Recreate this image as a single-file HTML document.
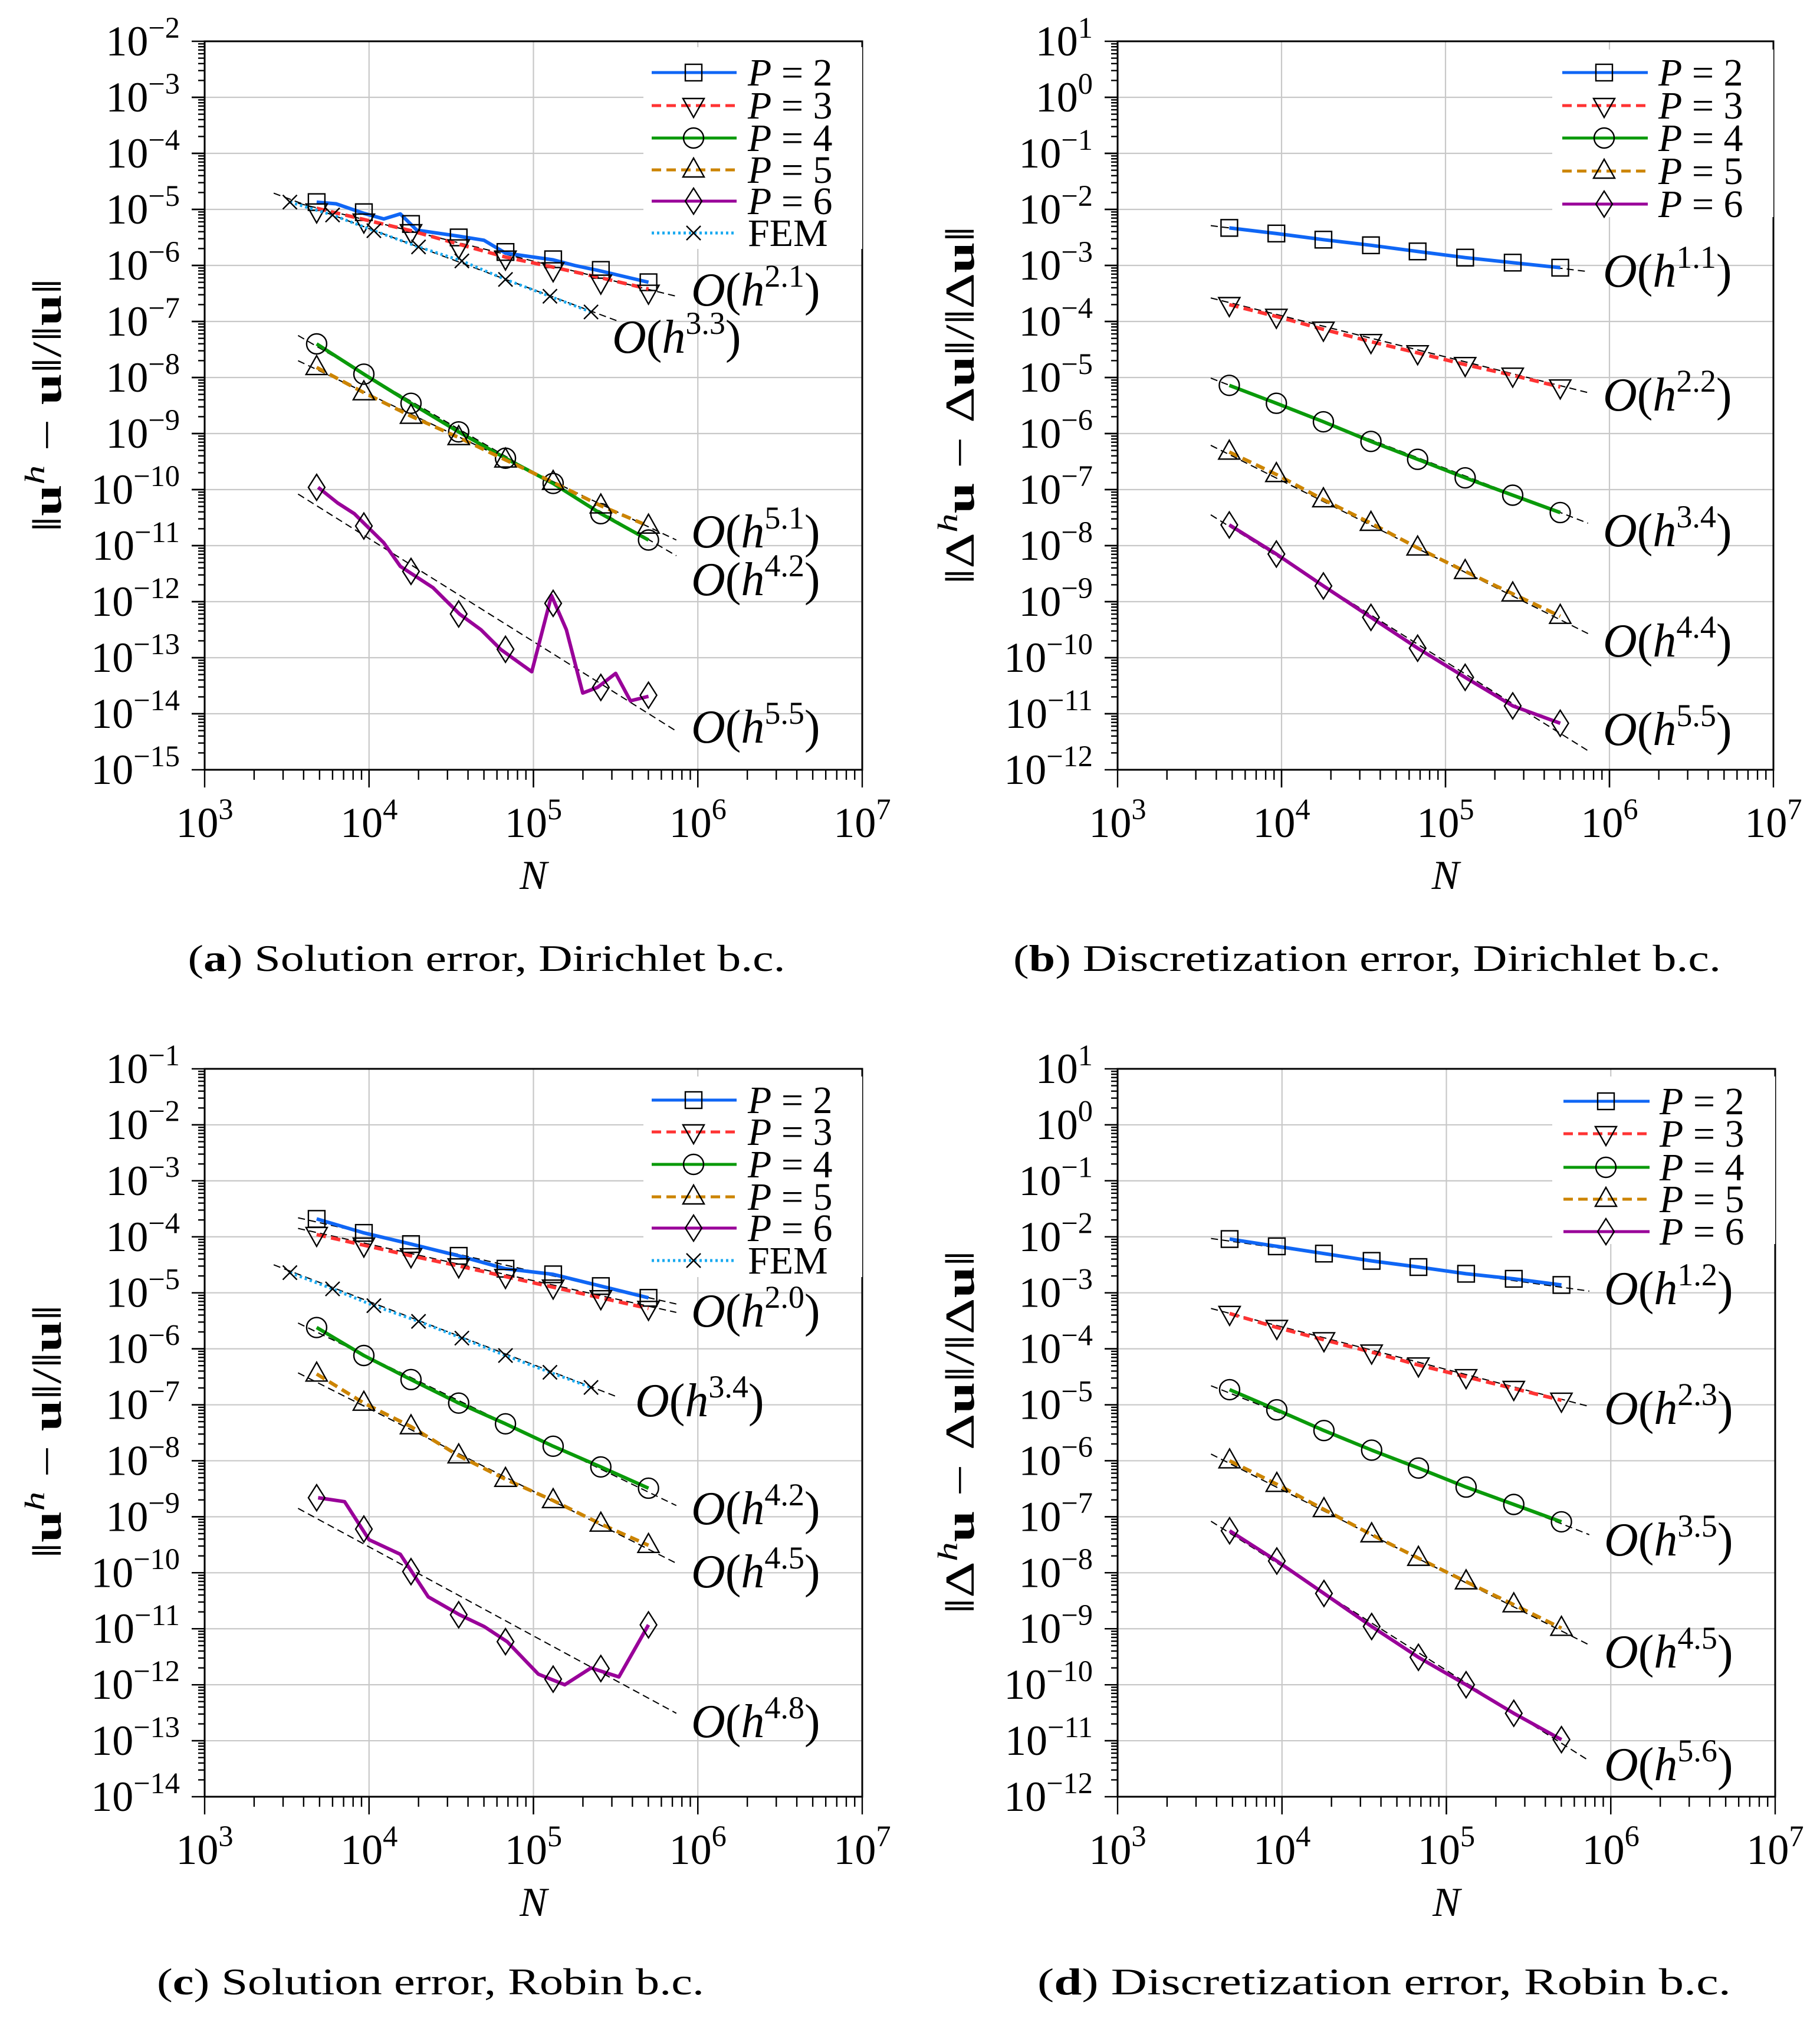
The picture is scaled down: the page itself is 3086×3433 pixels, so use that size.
<!DOCTYPE html>
<html><head><meta charset="utf-8"><style>
html,body{margin:0;padding:0;background:#fff;}
svg{display:block;font-family:"Liberation Serif",serif;}
</style></head><body>
<svg id="fig" xmlns="http://www.w3.org/2000/svg" width="3086" height="3433" viewBox="0 0 3086 3433"></svg>
<script>
// ---------- data ----------
const nMarkers = [4800, 9300, 18000, 35100, 67600, 131800, 257000, 501000];
const femN = [3300, 6000, 10700, 20000, 36700, 67600, 126000, 224000];
const refN = [3700, 740000];
const femRefN = [2630, 331000];
const xTickExp = [3, 4, 5, 6, 7];

// panel a (log10 of error)
const aP2LineN = [4800,6300,9300,12300,15500,19500,35500,50000,67600,131800,178000,257000,501000];
const aP2LineLog = [-4.87,-4.90,-5.07,-5.17,-5.08,-5.37,-5.48,-5.55,-5.78,-5.90,-6.00,-6.10,-6.30];
const aP2Log = [-4.87,-5.05,-5.26,-5.50,-5.76,-5.89,-6.08,-6.30];
const aP3Log = [-5.03,-5.21,-5.40,-5.67,-5.87,-6.08,-6.30,-6.48];
const aP3LineLog = [-4.98,-5.18,-5.38,-5.62,-5.85,-6.03,-6.22,-6.42];
const aP4Log = [-7.40,-7.94,-8.46,-8.97,-9.44,-9.89,-10.43,-10.90];
const aP5Log = [-7.82,-8.27,-8.69,-9.07,-9.47,-9.87,-10.29,-10.65];
const aP6Log = [-9.96,-10.65,-11.46,-12.22,-12.85,-12.03,-13.53,-13.67];
const aP6LineN = [4900,6450,8130,12300,15500,24500,35500,47900,63100,97700,128800,158500,199500,245500,316200,389000,501000];
const aP6LineLog = [-9.96,-10.24,-10.43,-10.95,-11.37,-11.75,-12.22,-12.50,-12.85,-13.25,-11.89,-12.50,-13.63,-13.53,-13.28,-13.77,-13.69];
const aFemLog = [-4.87,-5.10,-5.38,-5.67,-5.92,-6.25,-6.55,-6.83];
const aRefP2 = [-4.89,-6.55];
const aRefFem = [-4.71,-7.0];
const aRefP4 = [-7.25,-11.18];
const aRefP5 = [-7.70,-10.90];
const aRefP6 = [-10.08,-14.31];

// panel b
const bP2Log = [-2.33,-2.43,-2.54,-2.64,-2.75,-2.86,-2.95,-3.04];
const bP3Log = [-3.70,-3.91,-4.14,-4.36,-4.56,-4.77,-4.96,-5.17];
const bP4Log = [-5.14,-5.46,-5.79,-6.14,-6.46,-6.79,-7.10,-7.41];
const bP5Log = [-6.33,-6.73,-7.18,-7.60,-8.04,-8.46,-8.86,-9.26];
const bP6Log = [-7.63,-8.15,-8.72,-9.28,-9.83,-10.35,-10.86,-11.17];
const bRefP2 = [-2.29,-3.11];
const bRefP3 = [-3.58,-5.27];
const bRefP4 = [-5.01,-7.60];
const bRefP5 = [-6.21,-9.57];
const bRefP6 = [-7.45,-11.66];

// panel c
const cP2Log = [-3.68,-3.93,-4.13,-4.34,-4.57,-4.67,-4.88,-5.09];
const cP3Log = [-3.96,-4.15,-4.34,-4.52,-4.71,-4.90,-5.09,-5.28];
const cFemLog = [-4.64,-4.93,-5.23,-5.51,-5.81,-6.12,-6.42,-6.69];
const cP4Log = [-5.62,-6.12,-6.55,-6.97,-7.34,-7.74,-8.11,-8.49];
const cP5Log = [-6.45,-6.97,-7.39,-7.91,-8.33,-8.71,-9.13,-9.51];
const cP6Log = [-8.66,-9.22,-9.98,-10.75,-11.23,-11.90,-11.71,-10.93];
const cP6LineN = [4900,7100,10000,15500,22900,35500,50100,69200,107000,155000,224000,331000,501000];
const cP6LineLog = [-8.66,-8.73,-9.41,-9.67,-10.43,-10.75,-10.96,-11.23,-11.81,-12.00,-11.70,-11.86,-10.93];
const cRefP2 = [-3.66,-5.20];
const cRefP3 = [-3.85,-5.35];
const cRefFem = [-4.50,-6.87];
const cRefP4 = [-5.54,-8.80];
const cRefP5 = [-6.43,-9.83];
const cRefP6 = [-8.85,-12.51];

// panel d
const dP2Log = [-2.04,-2.17,-2.30,-2.43,-2.54,-2.66,-2.75,-2.86];
const dP3Log = [-3.37,-3.62,-3.84,-4.06,-4.29,-4.50,-4.71,-4.92];
const dP4Log = [-4.73,-5.09,-5.46,-5.81,-6.13,-6.47,-6.78,-7.09];
const dP5Log = [-6.00,-6.42,-6.87,-7.32,-7.74,-8.16,-8.57,-8.99];
const dP6Log = [-7.25,-7.79,-8.37,-8.96,-9.51,-10.0,-10.51,-10.98];
const dRefP2 = [-2.03,-2.97];
const dRefP3 = [-3.28,-5.03];
const dRefP4 = [-4.66,-7.32];
const dRefP5 = [-5.88,-9.29];
const dRefP6 = [-7.08,-11.36];

// ---------- drawing ----------
const NS = "http://www.w3.org/2000/svg";
const svg = document.getElementById('fig');
function mk(tag, attrs, parent){
  const e = document.createElementNS(NS, tag);
  for (const k in attrs) e.setAttribute(k, attrs[k]);
  (parent||svg).appendChild(e);
  return e;
}
const ST = {
  P2:{color:'#0f66f5', dash:'', marker:'square', label:'2'},
  P3:{color:'#ff3333', dash:'16 9', marker:'tridown', label:'3'},
  P4:{color:'#0a9a0a', dash:'', marker:'circle', label:'4'},
  P5:{color:'#cc8400', dash:'16 9', marker:'triup', label:'5'},
  P6:{color:'#990099', dash:'', marker:'diamond', label:'6'},
  FEM:{color:'#1aaaf0', dash:'4 5', marker:'x', label:'FEM'}
};
function drawMarker(g, type, x, y){
  let e;
  const a = {fill:'none', stroke:'#000', 'stroke-width':2.4};
  if (type==='square') { e = mk('rect', Object.assign({x:x-14,y:y-14,width:28,height:28}, a), g); }
  else if (type==='circle') { e = mk('circle', Object.assign({cx:x,cy:y,r:17}, a), g); }
  else if (type==='tridown') { e = mk('polygon', Object.assign({points:`${x-18},${y-12} ${x+18},${y-12} ${x},${y+20}`}, a), g); }
  else if (type==='triup') { e = mk('polygon', Object.assign({points:`${x-18},${y+12} ${x+18},${y+12} ${x},${y-20}`}, a), g); }
  else if (type==='diamond') { e = mk('polygon', Object.assign({points:`${x},${y-22} ${x+14},${y} ${x},${y+22} ${x-14},${y}`}, a), g); }
  else { e = mk('path', Object.assign({d:`M${x-12},${y-12}L${x+12},${y+12}M${x-12},${y+12}L${x+12},${y-12}`}, a), g); }
  
  
}
function supText(parent, x, y, base, sup, size, anchor){
  const t = mk('text', {x:x, y:y, 'font-size':size, 'text-anchor':anchor||'start', fill:'#000'}, parent);
  const s1 = mk('tspan', {}, t); s1.textContent = base;
  const s2 = mk('tspan', {dy:-size*0.42, 'font-size':size*0.7}, t); s2.textContent = sup;
  return t;
}

const panels = [
 {id:'a', x0:347, x1:1462, y0:70, y1:1305, top:-2, ylab:'u', capX:825, capY:1646, cap:'Solution error, Dirichlet b.c.', capW:1013,
  series:[
   {k:'P2', lineN:aP2LineN, lineY:aP2LineLog, mN:nMarkers, mY:aP2Log},
   {k:'P3', lineN:nMarkers, lineY:aP3LineLog, mN:nMarkers, mY:aP3Log},
   {k:'P4', lineN:nMarkers, lineY:aP4Log, mN:nMarkers, mY:aP4Log},
   {k:'P5', lineN:nMarkers, lineY:aP5Log, mN:nMarkers, mY:aP5Log},
   {k:'P6', lineN:aP6LineN, lineY:aP6LineLog, mN:nMarkers, mY:aP6Log},
   {k:'FEM', lineN:femN, lineY:aFemLog, mN:femN, mY:aFemLog}],
  refs:[[refN,aRefP2],[femRefN,aRefFem],[refN,aRefP4],[refN,aRefP5],[refN,aRefP6]],
  labels:[[1172,518,'2.1'],[1038,598,'3.3'],[1172,928,'5.1'],[1172,1009,'4.2'],[1172,1259,'5.5']],
  legend:{x:1091,y:80,w:371,h:342,rows:[123,179,234,288,341,395],lx0:1105,lx1:1249,mx:1176,tx:1268},
  yLabCenter:687, yLabLen:430},
 {id:'b', x0:1895, x1:3007, y0:70, y1:1305, top:1, ylab:'du', capX:2318, capY:1646, cap:'Discretization error, Dirichlet b.c.', capW:1200,
  series:[
   {k:'P2', lineN:nMarkers, lineY:bP2Log, mN:nMarkers, mY:bP2Log},
   {k:'P3', lineN:nMarkers, lineY:bP3Log, mN:nMarkers, mY:bP3Log},
   {k:'P4', lineN:nMarkers, lineY:bP4Log, mN:nMarkers, mY:bP4Log},
   {k:'P5', lineN:nMarkers, lineY:bP5Log, mN:nMarkers, mY:bP5Log},
   {k:'P6', lineN:nMarkers, lineY:bP6Log, mN:nMarkers, mY:bP6Log}],
  refs:[[refN,bRefP2],[refN,bRefP3],[refN,bRefP4],[refN,bRefP5],[refN,bRefP6]],
  labels:[[2718,486,'1.1'],[2718,696,'2.2'],[2718,926,'3.4'],[2718,1113,'4.4'],[2718,1263,'5.5']],
  legend:{x:2632,y:84,w:375,h:284,rows:[123,179,234,290,346],lx0:2649,lx1:2794,mx:2720,tx:2812},
  yLabCenter:687, yLabLen:607},
 {id:'c', x0:347, x1:1462, y0:1812, y1:3046, top:-1, ylab:'u', capX:730, capY:3381, cap:'Solution error, Robin b.c.', capW:928,
  series:[
   {k:'P2', lineN:nMarkers, lineY:cP2Log, mN:nMarkers, mY:cP2Log},
   {k:'P3', lineN:nMarkers, lineY:cP3Log, mN:nMarkers, mY:cP3Log},
   {k:'P4', lineN:nMarkers, lineY:cP4Log, mN:nMarkers, mY:cP4Log},
   {k:'P5', lineN:nMarkers, lineY:cP5Log, mN:nMarkers, mY:cP5Log},
   {k:'P6', lineN:cP6LineN, lineY:cP6LineLog, mN:nMarkers, mY:cP6Log},
   {k:'FEM', lineN:femN, lineY:cFemLog, mN:femN, mY:cFemLog}],
  refs:[[refN,cRefP2],[refN,cRefP3],[femRefN,cRefFem],[refN,cRefP4],[refN,cRefP5],[refN,cRefP6]],
  labels:[[1172,2249,'2.0'],[1077,2401,'3.4'],[1172,2584,'4.2'],[1172,2691,'4.5'],[1172,2945,'4.8']],
  legend:{x:1091,y:1825,w:371,h:340,rows:[1865,1919,1974,2029,2082,2137],lx0:1105,lx1:1249,mx:1176,tx:1268},
  yLabCenter:2427, yLabLen:430},
 {id:'d', x0:1895, x1:3010, y0:1812, y1:3046, top:1, ylab:'du', capX:2347, capY:3381, cap:'Discretization error, Robin b.c.', capW:1176,
  series:[
   {k:'P2', lineN:nMarkers, lineY:dP2Log, mN:nMarkers, mY:dP2Log},
   {k:'P3', lineN:nMarkers, lineY:dP3Log, mN:nMarkers, mY:dP3Log},
   {k:'P4', lineN:nMarkers, lineY:dP4Log, mN:nMarkers, mY:dP4Log},
   {k:'P5', lineN:nMarkers, lineY:dP5Log, mN:nMarkers, mY:dP5Log},
   {k:'P6', lineN:nMarkers, lineY:dP6Log, mN:nMarkers, mY:dP6Log}],
  refs:[[refN,dRefP2],[refN,dRefP3],[refN,dRefP4],[refN,dRefP5],[refN,dRefP6]],
  labels:[[2720,2211,'1.2'],[2720,2414,'2.3'],[2720,2637,'3.5'],[2720,2827,'4.5'],[2720,3018,'5.6']],
  legend:{x:2632,y:1825,w:378,h:284,rows:[1867,1922,1979,2033,2088],lx0:2651,lx1:2797,mx:2723,tx:2814},
  yLabCenter:2428, yLabLen:616}
];

panels.forEach(p => {
  const g = mk('g', {});
  
  
  const xs = N => p.x0 + (Math.log10(N) - 3) * (p.x1 - p.x0) / 4;
  const ys = L => p.y0 + (p.top - L) * (p.y1 - p.y0) / 13;
  const grid = mk('g', {stroke:'#c8c8c8', 'stroke-width':2.2}, g);
  
  
  xTickExp.forEach(e => { const x = xs(Math.pow(10,e)); mk('line',{x1:x,x2:x,y1:p.y0,y2:p.y1},grid); });
  for (let i=0;i<=13;i++){ const y = ys(p.top - i); mk('line',{x1:p.x0,x2:p.x1,y1:y,y2:y},grid); }
  const tk = mk('g', {stroke:'#000', 'stroke-width':2.4}, g);
  
  
  for (let e=3;e<7;e++) for (let k=1;k<=10;k++){
    const x = xs(k*Math.pow(10,e)); const major = (k===1||k===10);
    mk('line',{x1:x,x2:x,y1:p.y1,y2:p.y1+(major?30:17)},tk);
  }
  for (let i=0;i<13;i++) for (let k=1;k<=10;k++){
    const L = p.top - i - 1 + Math.log10(k); const y = ys(L); const major = (k===1||k===10);
    mk('line',{x1:p.x0-(major?22:11),x2:p.x0,y1:y,y2:y},tk);
  }
  const tl = mk('g', {}, g);
  
  
  xTickExp.forEach(e => { supText(tl, xs(Math.pow(10,e)), p.y1+114, '10', String(e), 72, 'middle'); });
  const yl = mk('g', {}, g);
  
  
  for (let i=0;i<=13;i++){ const e = p.top - i; supText(yl, p.x0-42, ys(e)+24, '10', (e<0?'\u2212'+(-e):String(e)), 72, 'end'); }
  p.refs.forEach(r => {
    const l = mk('line',{x1:xs(r[0][0]),y1:ys(r[1][0]),x2:xs(r[0][1]),y2:ys(r[1][1]),stroke:'#000','stroke-width':2,'stroke-dasharray':'12 7'},g);
    
    
  });
  p.series.forEach(s => {
    const st = ST[s.k];
    const sg = mk('g', {}, g);
    
    
    const pts = s.lineN.map((n,i) => xs(n).toFixed(1)+','+ys(s.lineY[i]).toFixed(1)).join(' ');
    const pl = mk('polyline',{points:pts,fill:'none',stroke:st.color,'stroke-width':s.k==='FEM'?5:6,'stroke-dasharray':st.dash,'stroke-linejoin':'round'},sg);
    
    
    s.mN.forEach((n,i) => drawMarker(sg, st.marker, xs(n), ys(s.mY[i])));
  });
  p.labels.forEach(lb => {
    const t = mk('text', {x:lb[0], y:lb[1], 'font-size':80, fill:'#000'}, g);
    
    
    const a = mk('tspan', {'font-style':'italic'}, t); a.textContent = 'O';
    const b = mk('tspan', {}, t); b.textContent = '(';
    const c = mk('tspan', {'font-style':'italic'}, t); c.textContent = 'h';
    const d = mk('tspan', {dy:-32, 'font-size':54}, t); d.textContent = lb[2];
    const e = mk('tspan', {dy:32}, t); e.textContent = ')';
  });
  const fr = mk('rect',{x:p.x0,y:p.y0,width:p.x1-p.x0,height:p.y1-p.y0,fill:'none',stroke:'#000','stroke-width':3},g);
  
  
  const L = p.legend;
  const lg = mk('g', {}, g);
  
  
  mk('rect',{x:L.x,y:L.y,width:L.w,height:L.h,fill:'#fff'},lg);
  p.series.forEach((s,i) => {
    const st = ST[s.k]; const y = L.rows[i];
    const eg = mk('g', {}, lg);
    
    
    mk('line',{x1:L.lx0,x2:L.lx1,y1:y,y2:y,stroke:st.color,'stroke-width':5,'stroke-dasharray':st.dash},eg);
    drawMarker(eg, st.marker, L.mx, y);
    const t = mk('text',{x:L.tx,y:y+22,'font-size':66,fill:'#000'},eg);
    if (s.k==='FEM') { t.textContent = 'FEM'; }
    else {
      const a = mk('tspan',{'font-style':'italic'},t); a.textContent = 'P';
      const b = mk('tspan',{},t); b.textContent = ' = ' + st.label;
    }
  });
  const xl = mk('text',{x:(p.x0+p.x1)/2,y:p.y1+202,'font-size':70,'font-style':'italic','text-anchor':'middle'},g);
  
  
  xl.textContent = 'N';
  const cx = p.x0 - 266, cy = p.yLabCenter;
  const yt = mk('text',{x:cx,y:cy+22,'font-size':70,'text-anchor':'middle',transform:`rotate(-90 ${cx} ${cy})`,textLength:p.yLabLen,lengthAdjust:'spacingAndGlyphs'},g);
  
  
  if (p.ylab==='u') {
    const t1 = mk('tspan',{},yt); t1.textContent = '\u2016';
    const t2 = mk('tspan',{'font-weight':'bold'},yt); t2.textContent = 'u';
    const t3 = mk('tspan',{dy:-28,'font-size':48,'font-style':'italic'},yt); t3.textContent = 'h';
    const t4 = mk('tspan',{dy:28},yt); t4.textContent = ' \u2212 ';
    const t5 = mk('tspan',{'font-weight':'bold'},yt); t5.textContent = 'u';
    const t6 = mk('tspan',{},yt); t6.textContent = '\u2016/\u2016';
    const t7 = mk('tspan',{'font-weight':'bold'},yt); t7.textContent = 'u';
    const t8 = mk('tspan',{},yt); t8.textContent = '\u2016';
  } else {
    const t1 = mk('tspan',{},yt); t1.textContent = '\u2016\u0394';
    const t3 = mk('tspan',{dy:-28,'font-size':48,'font-style':'italic'},yt); t3.textContent = 'h';
    const t2 = mk('tspan',{dy:28,'font-weight':'bold'},yt); t2.textContent = 'u';
    const t4 = mk('tspan',{},yt); t4.textContent = ' \u2212 \u0394';
    const t5 = mk('tspan',{'font-weight':'bold'},yt); t5.textContent = 'u';
    const t6 = mk('tspan',{},yt); t6.textContent = '\u2016/\u2016\u0394';
    const t7 = mk('tspan',{'font-weight':'bold'},yt); t7.textContent = 'u';
    const t8 = mk('tspan',{},yt); t8.textContent = '\u2016';
  }
  const cap = mk('text',{x:p.capX,y:p.capY,'font-size':64,'text-anchor':'middle',textLength:p.capW,lengthAdjust:'spacingAndGlyphs'},svg);
  
  
  const c1 = mk('tspan',{},cap); c1.textContent = '(';
  const c2 = mk('tspan',{'font-weight':'bold'},cap); c2.textContent = p.id;
  const c3 = mk('tspan',{},cap); c3.textContent = ') ' + p.cap;
});
</script>
</body></html>
